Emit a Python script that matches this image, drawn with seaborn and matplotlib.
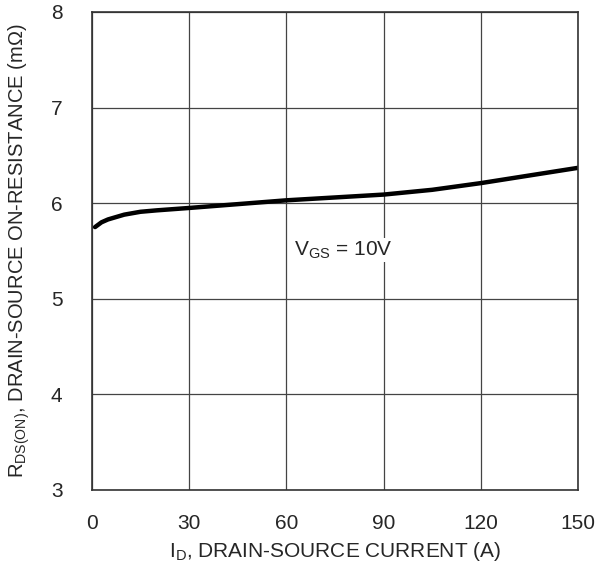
import numpy as np
import pandas as pd
import matplotlib
matplotlib.use("Agg")
import matplotlib.pyplot as plt
import seaborn as sns

# curve (I_D in A, R_DS(on) in mOhm)
current = [1, 3, 5, 10, 15, 20, 30, 45, 60, 75, 90, 105, 120, 135, 150]
resistance = [5.75, 5.80, 5.83, 5.88, 5.91, 5.925, 5.95, 5.99, 6.03, 6.06,
              6.09, 6.14, 6.21, 6.29, 6.37]
x_ticks = [0, 30, 60, 90, 120, 150]
y_ticks = [3, 4, 5, 6, 7, 8]

df = pd.DataFrame({"ID": current, "RDS": resistance})

sns.set_style("white")
plt.rcParams["font.family"] = ["Liberation Sans", "DejaVu Sans"]

fig = plt.figure(figsize=(5.96, 5.63), dpi=100)
ax = fig.add_axes([0.154, 0.1297, 0.816, 0.849])

sns.lineplot(data=df, x="ID", y="RDS", ax=ax, color="black", linewidth=3.2)

ax.set_xlim(0, 150)
ax.set_ylim(3, 8)
ax.set_xticks(x_ticks)
ax.set_yticks(y_ticks)
ax.grid(True, color="#444444", linewidth=0.9)
for s in ax.spines.values():
    s.set_color("#333333")
    s.set_linewidth(1.2)
ax.tick_params(axis="x", length=0, labelsize=15, pad=17)
ax.tick_params(axis="y", length=0, labelsize=15, pad=21)

ax.set_xlabel(r"I$_{\mathregular{D}}$, DRAIN-SOURCE CURRENT (A)", fontsize=15, labelpad=5)
ax.set_ylabel(r"R$_{\mathregular{DS(ON)}}$, DRAIN-SOURCE ON-RESISTANCE (m$\mathregular{\Omega}$)",
              fontsize=14.5, labelpad=14)

ax.text(62.5, 5.51, r"V$_{\mathregular{GS}}$ = 10V", fontsize=15, va="center", ha="left",
        bbox=dict(facecolor="white", edgecolor="none", pad=1))

fig.savefig("out.png", dpi=100)
